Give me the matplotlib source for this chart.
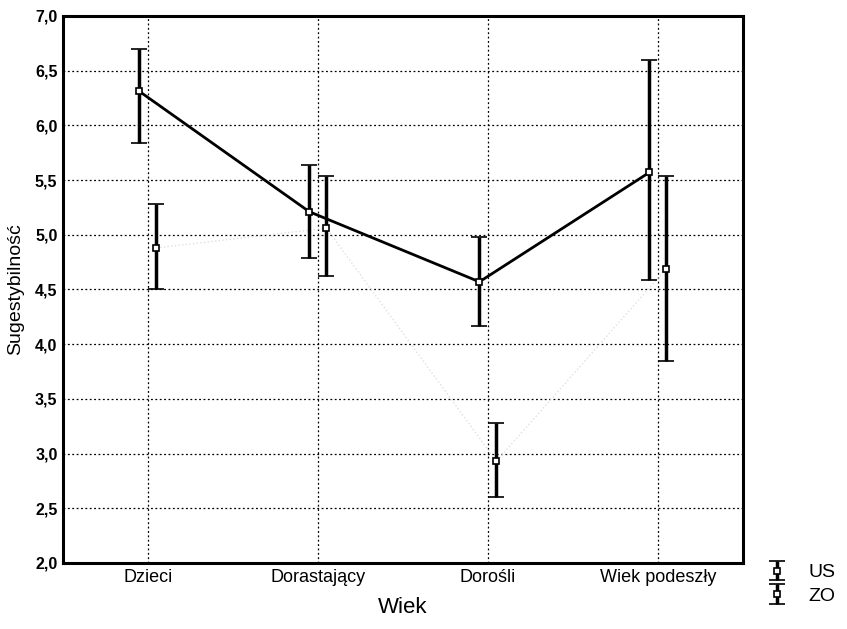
import numpy as np
import matplotlib
matplotlib.use('Agg')
import matplotlib.pyplot as plt

plt.rcParams['font.family'] = ['Liberation Sans', 'DejaVu Sans']

kategorie = ['Dzieci', 'Dorastający', 'Dorośli', 'Wiek podeszły']
yticks = [2.0, 2.5, 3.0, 3.5, 4.0, 4.5, 5.0, 5.5, 6.0, 6.5, 7.0]

# US: srednie i przedzialy ufnosci
us_mean = [6.31, 5.21, 4.57, 5.57]
us_low = [5.84, 4.79, 4.17, 4.59]
us_high = [6.70, 5.64, 4.98, 6.60]

# ZO
zo_mean = [4.88, 5.06, 2.93, 4.69]
zo_low = [4.50, 4.62, 2.60, 3.85]
zo_high = [5.28, 5.54, 3.28, 5.54]

fig = plt.figure(figsize=(8.47, 6.29), dpi=100)
ax = fig.add_axes([0.0744, 0.105, 0.8026, 0.8696])

x = np.arange(len(kategorie))
off = 0.05

def err(mean, low, high):
    m = np.array(mean)
    return [m - np.array(low), np.array(high) - m]

ax.plot(x - off, us_mean, color='black', lw=2, zorder=3)
ax.plot(x + off, zo_mean, color='#e0e0e0', lw=1, ls=':', zorder=2)

h_us = ax.errorbar(x - off, us_mean, yerr=err(us_mean, us_low, us_high),
                   fmt='s', ms=5, mfc='white', mec='black', mew=1.2,
                   ecolor='black', elinewidth=2.5, capsize=6, capthick=2.5,
                   zorder=4)
h_zo = ax.errorbar(x + off, zo_mean, yerr=err(zo_mean, zo_low, zo_high),
                   fmt='s', ms=5, mfc='white', mec='black', mew=1.2,
                   ecolor='black', elinewidth=2.5, capsize=6, capthick=2.5,
                   zorder=4)

ax.set_xlim(-0.5, 3.5)
ax.set_ylim(2.0, 7.0)
ax.set_xticks(x)
ax.set_xticklabels(kategorie, fontsize=13)
ax.set_yticks(yticks)
ax.set_yticklabels([f'{v:.1f}'.replace('.', ',') for v in yticks],
                   fontsize=11.5, fontweight='bold')
ax.tick_params(length=0, pad=4)
ax.grid(True, color='black', ls=(0, (1.5, 2)), lw=0.9)
for s in ax.spines.values():
    s.set_linewidth(2.2)

ax.set_xlabel('Wiek', fontsize=16, labelpad=8)
ax.set_ylabel('Sugestybilność', fontsize=14, labelpad=8)

fig.legend([h_us, h_zo], ['US', 'ZO'], loc='lower right',
           bbox_to_anchor=(1.0, 0.02), frameon=False, fontsize=14,
           handlelength=2.2, labelspacing=0.3, borderaxespad=0.2,
           handletextpad=0.5)

fig.savefig('out.png', dpi=100)
